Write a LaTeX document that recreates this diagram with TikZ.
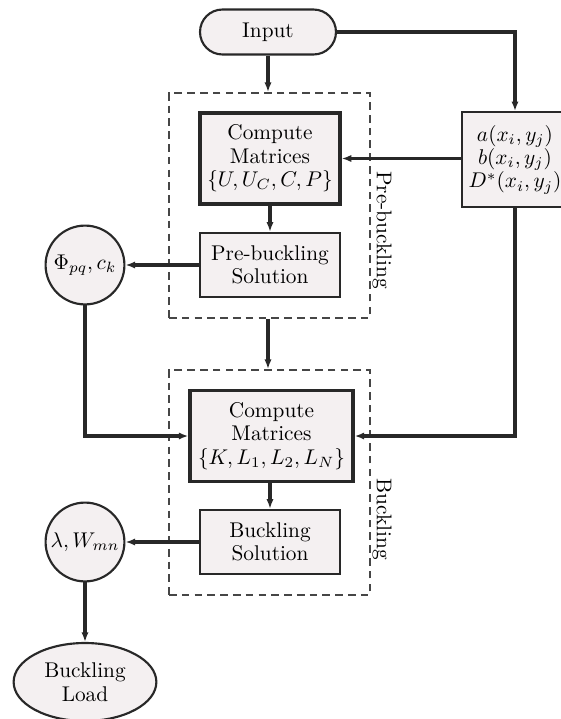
\documentclass[tikz,border=0pt]{standalone}
\usetikzlibrary{arrows.meta,shapes.geometric,shapes.misc}
\definecolor{ln}{RGB}{40,40,40}
\definecolor{fl}{RGB}{244,240,241}
\definecolor{dsh}{RGB}{70,70,70}
\tikzset{
  x=0.0165cm, y=-0.0165cm,
  base/.style={draw=ln, fill=fl, align=center, inner sep=1pt, font={\fontsize{10}{11}\selectfont}},
  term/.style={base, line width=1pt, rounded corners=10.5pt, minimum width=63.8pt, minimum height=21.1pt},
  compbox/.style={base, line width=1.6pt, minimum height=42.7pt},
  solbox/.style={base, line width=1.2pt, minimum width=65.7pt, minimum height=30pt},
  databox/.style={base, line width=0.8pt, minimum width=49.7pt, minimum height=44.6pt, inner sep=0pt},
  res/.style={base, circle, line width=1pt, minimum size=37pt, inner sep=0pt},
  outell/.style={base, ellipse, line width=1pt, minimum width=67pt, minimum height=36.6pt, inner sep=0pt},
  group/.style={draw=dsh, line width=1pt, dash pattern=on 3.6pt off 2.4pt, minimum width=94.3pt, inner sep=0pt},
  conn/.style={draw=ln, line width=1.5pt, -{Latex[length=4.5pt,width=3.4pt]}},
  grplabel/.style={rotate=-90, font=\normalsize, inner sep=0pt}
}
\begin{document}
\begin{tikzpicture}
\useasboundingbox (0,0) rectangle (561,719);
% groups
\node[group, minimum height=105.5pt] (pre) at (269.5,205.5) {};
\node[group, minimum height=105.5pt] (buck) at (269.5,482.5) {};
\node[grplabel] (prelab) at (382,230) {Pre-buckling};
\node[grplabel] (bucklab) at (382,519) {Buckling};
% nodes
\node[term] (in) at (268,32) {Input};
\node[compbox, minimum width=65.7pt] (c1) at (270,158.5) {Compute\\Matrices\\$\{U,U_C,C,P\}$};
\node[solbox] (ps) at (270,265) {Pre-buckling\\Solution};
\node[res] (phi) at (85,265) {$\Phi_{pq},c_k$};
\node[databox] (rb) at (515,159.5) {$a(x_i,y_j)$\\$b(x_i,y_j)$\\$D^{*}(x_i,y_j)$};
\node[compbox, minimum width=76.4pt] (c2) at (271.5,436) {Compute\\Matrices\\$\{K,L_1,L_2,L_N\}$};
\node[solbox] (bs) at (270,542) {Buckling\\Solution};
\node[res] (lam) at (85,542) {$\lambda,W_{mn}$};
\node[outell] (load) at (85,682) {Buckling\\Load};
% connectors
\draw[conn] (in.south) -- (in.south |- pre.north);
\draw[conn] (in.east) -| (rb.north);
\draw[conn] (rb.west |- c1.east) -- (c1.east);
\draw[conn] (c1.south) -- (ps.north);
\draw[conn] (ps.west) -- (phi.east);
\draw[conn] (pre.south -| in.south) -- (buck.north -| in.south);
\draw[conn] (phi.south) |- (c2.west);
\draw[conn] (rb.south) |- (c2.east);
\draw[conn] (c2.south -| bs.north) -- (bs.north);
\draw[conn] (bs.west) -- (lam.east);
\draw[conn] (lam.south) -- (load.north);
\end{tikzpicture}
\end{document}
